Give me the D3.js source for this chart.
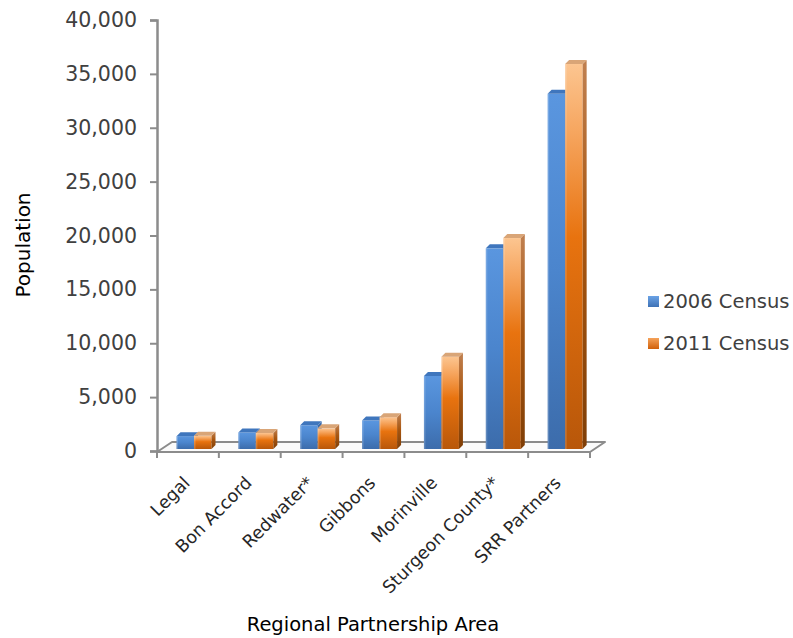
<!DOCTYPE html>
<html>
<head>
<meta charset="utf-8">
<script src="https://cdn.jsdelivr.net/npm/d3@7"></script>
<style>
  html, body { margin: 0; padding: 0; background: #ffffff; }
  svg { display: block; }
  text { font-family: "DejaVu Sans", sans-serif; }
</style>
</head>
<body>
<svg id="chart" width="793" height="638"></svg>
<script>
// Population by member municipality, 2006 vs 2011 census
const categories = ["Legal", "Bon Accord", "Redwater*", "Gibbons", "Morinville", "Sturgeon County*", "SRR Partners"];
const census2006 = [1192, 1534, 2202, 2642, 6775, 18621, 32966];
const census2011 = [1225, 1488, 1915, 2954, 8569, 19578, 35729];
const seriesNames = ["2006 Census", "2011 Census"];
const yTicks = [0, 5000, 10000, 15000, 20000, 25000, 30000, 35000, 40000];

const svg = d3.select("#chart");
const defs = svg.append("defs");

const axisColor = "#8c8c8c";
const plot = { left: 157, right: 590, top: 20, bottom: 451 };
const floorDepth = { dx: 15, dy: -10 };
const barDepth = { dx: 4, dy: -4 };
const barLift = 2;

const x = d3.scaleBand().domain(categories).range([plot.left, plot.right]).paddingInner(0).paddingOuter(0);
const y = d3.scaleLinear().domain([0, 40000]).range([plot.bottom, plot.top]);

// colour ramps for the bar faces
function grad(id, stops) {
  const g = defs.append("linearGradient").attr("id", id)
    .attr("x1", 0).attr("y1", 0).attr("x2", 0).attr("y2", 1);
  stops.forEach(s => g.append("stop").attr("offset", s[0]).attr("stop-color", s[1]));
}
grad("blueFront", [[0, "#5a96df"], [0.5, "#4b85cd"], [1, "#3c6cab"]]);
grad("blueSide", [[0, "#3e70b2"], [1, "#2c5387"]]);
grad("orangeFront", [[0, "#fcc590"], [0.18, "#f6a55e"], [0.45, "#e8730f"], [1, "#b8570a"]]);
grad("orangeSide", [[0, "#c08050"], [0.45, "#a85610"], [1, "#7f3e06"]]);
grad("blueLegend", [[0, "#6aa2e6"], [1, "#3f72b5"]]);
grad("orangeLegend", [[0, "#f5a25a"], [1, "#d0600a"]]);

const styles = [
  { front: "url(#blueFront)", side: "url(#blueSide)", top: "#3f76bd", legend: "url(#blueLegend)" },
  { front: "url(#orangeFront)", side: "url(#orangeSide)", top: "#d9a577", legend: "url(#orangeLegend)" }
];

// floor
const fl = plot.bottom + 1;
svg.append("path")
  .attr("d", `M${plot.left},${fl} L${plot.left + floorDepth.dx},${fl + floorDepth.dy} L${plot.right + floorDepth.dx},${fl + floorDepth.dy} L${plot.right},${fl} Z`)
  .attr("fill", "#fbfbfb").attr("stroke", axisColor).attr("stroke-width", 2).attr("stroke-linejoin", "round");

// y axis
const yAxis = d3.axisLeft(y).tickValues(yTicks).tickFormat(d3.format(",")).tickSize(7).tickPadding(13);
const gy = svg.append("g").attr("transform", `translate(${plot.left},0)`).call(yAxis);
gy.select(".domain").attr("stroke", axisColor).attr("stroke-width", 2.5);
gy.selectAll(".tick line").attr("stroke", axisColor).attr("stroke-width", 2);
gy.selectAll(".tick text").attr("fill", "#404040").style("font-size", "20.5px").style("font-family", "DejaVu Sans, sans-serif");

// x axis ticks at category boundaries
const bounds = categories.map(c => x(c)).concat([plot.right]);
svg.append("g").selectAll("line").data(bounds).join("line")
  .attr("x1", d => d).attr("x2", d => d)
  .attr("y1", fl).attr("y2", fl + 6)
  .attr("stroke", axisColor).attr("stroke-width", 2);

// bars
const barW = 17.5;
const groupOffset = 19.5;
const series = [census2006, census2011];
const base = y(0) - barLift;

categories.forEach((cat, i) => {
  series.forEach((vals, s) => {
    const x0 = x(cat) + groupOffset + s * barW;
    const top = y(vals[i]) - barLift;
    const st = styles[s];
    const g = svg.append("g");
    g.append("rect").attr("x", x0).attr("y", top).attr("width", barW).attr("height", base - top)
      .attr("fill", st.front);
    g.append("path")
      .attr("d", `M${x0 + barW},${top} L${x0 + barW + barDepth.dx},${top + barDepth.dy} L${x0 + barW + barDepth.dx},${base + barDepth.dy} L${x0 + barW},${base} Z`)
      .attr("fill", st.side);
    g.append("path")
      .attr("d", `M${x0},${top} L${x0 + barDepth.dx},${top + barDepth.dy} L${x0 + barW + barDepth.dx},${top + barDepth.dy} L${x0 + barW},${top} Z`)
      .attr("fill", st.top);
    // soft bevel highlight on the left edge of the front face
    g.append("rect").attr("x", x0).attr("y", top).attr("width", 1.5).attr("height", base - top)
      .attr("fill", "#ffffff").attr("opacity", 0.18);
  });
});

// category labels
svg.append("g").selectAll("text").data(categories).join("text")
  .attr("transform", d => `translate(${x(d) + x.bandwidth() / 2 + 3},${fl + 32}) rotate(-45)`)
  .attr("text-anchor", "end")
  .attr("fill", "#262626")
  .style("font-size", "17.5px")
  .text(d => d);

// axis titles
svg.append("text")
  .attr("transform", "translate(30,245) rotate(-90)")
  .attr("text-anchor", "middle").attr("fill", "#000")
  .style("font-size", "20px").text("Population");

svg.append("text")
  .attr("x", 373).attr("y", 631)
  .attr("text-anchor", "middle").attr("fill", "#000")
  .style("font-size", "19.5px").text("Regional Partnership Area");

// legend
const legend = svg.append("g").selectAll("g").data(seriesNames).join("g")
  .attr("transform", (d, i) => `translate(648,${296 + i * 42})`);
legend.append("rect").attr("width", 11).attr("height", 11).attr("fill", (d, i) => styles[i].legend);
legend.append("text").attr("x", 15).attr("y", 11.5).attr("fill", "#404040")
  .style("font-size", "19.5px").text(d => d);
</script>
</body>
</html>
